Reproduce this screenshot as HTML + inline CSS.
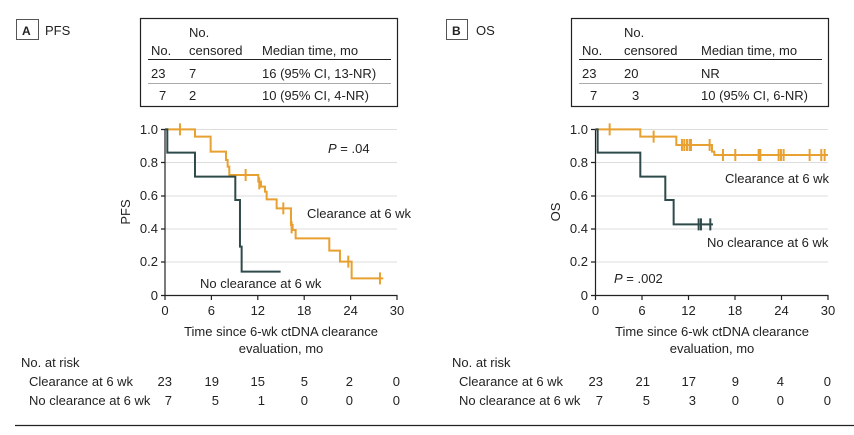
<!DOCTYPE html>
<html><head><meta charset="utf-8"><style>
html,body{margin:0;padding:0;background:#fff;}
svg{display:block;font-family:"Liberation Sans",sans-serif;font-size:13px;fill:#222;}
</style></head><body>
<svg width="854" height="435" viewBox="0 0 854 435" xmlns="http://www.w3.org/2000/svg">
<!-- Panel A header -->
<rect x="16.5" y="19.5" width="22" height="20" fill="none" stroke="#555" stroke-width="1"/>
<text x="22" y="35" font-weight="bold" font-size="12">A</text>
<text x="45" y="35">PFS</text>
<rect x="140.5" y="18.5" width="257" height="88" fill="none" stroke="#222" stroke-width="1.2"/>
<text x="189" y="37">No.</text>
<text x="151" y="55">No.</text><text x="189" y="55">censored</text><text x="262" y="55">Median time, mo</text>
<line x1="148" y1="59.5" x2="391" y2="59.5" stroke="#222" stroke-width="1"/>
<text x="151" y="78">23</text><text x="189" y="78">7</text><text x="262" y="78">16 (95% CI, 13-NR)</text>
<line x1="148" y1="83.5" x2="391" y2="83.5" stroke="#aaa" stroke-width="1"/>
<text x="159" y="100">7</text><text x="189" y="100">2</text><text x="262" y="100">10 (95% CI, 4-NR)</text>

<!-- Panel B header -->
<rect x="446.5" y="19.5" width="21" height="20" fill="none" stroke="#555" stroke-width="1"/>
<text x="452" y="35" font-weight="bold" font-size="12">B</text>
<text x="476" y="35">OS</text>
<rect x="571.5" y="18.5" width="257" height="88" fill="none" stroke="#222" stroke-width="1.2"/>
<text x="624" y="37">No.</text>
<text x="582" y="55">No.</text><text x="624" y="55">censored</text><text x="701" y="55">Median time, mo</text>
<line x1="579" y1="59.5" x2="822" y2="59.5" stroke="#222" stroke-width="1"/>
<text x="582" y="78">23</text><text x="624" y="78">20</text><text x="701" y="78">NR</text>
<line x1="579" y1="83.5" x2="822" y2="83.5" stroke="#aaa" stroke-width="1"/>
<text x="590" y="100">7</text><text x="632" y="100">3</text><text x="701" y="100">10 (95% CI, 6-NR)</text>

<!-- Axes A -->
<g stroke="#ddd" stroke-width="1">
<line x1="165" y1="129.5" x2="397" y2="129.5"/><line x1="165" y1="162.5" x2="397" y2="162.5"/>
<line x1="165" y1="196" x2="397" y2="196"/><line x1="165" y1="229" x2="397" y2="229"/>
<line x1="165" y1="262" x2="397" y2="262"/>
<line x1="595" y1="129.5" x2="828" y2="129.5"/><line x1="595" y1="162.5" x2="828" y2="162.5"/>
<line x1="595" y1="196" x2="828" y2="196"/><line x1="595" y1="229" x2="828" y2="229"/>
<line x1="595" y1="262" x2="828" y2="262"/>
</g>
<g stroke="#222" stroke-width="1.2" fill="none">
<path d="M165,129 V295.5 H397.5"/>
<path d="M161,129.5 H165 M161,162.5 H165 M161,196 H165 M161,229 H165 M161,262 H165 M161,295.5 H165"/>
<path d="M165,295 V300 M211.4,295 V300 M257.8,295 V300 M304.2,295 V300 M350.6,295 V300 M397,295 V300"/>
<path d="M595.5,129 V295.5 H828.5"/>
<path d="M591,129.5 H595 M591,162.5 H595 M591,196 H595 M591,229 H595 M591,262 H595 M591,295.5 H595"/>
<path d="M595.5,295 V300 M642,295 V300 M688.5,295 V300 M735,295 V300 M781.5,295 V300 M828,295 V300"/>
</g>
<g text-anchor="end">
<text x="158" y="134">1.0</text><text x="158" y="167">0.8</text><text x="158" y="200">0.6</text>
<text x="158" y="233">0.4</text><text x="158" y="266">0.2</text><text x="158" y="300">0</text>
<text x="588" y="134">1.0</text><text x="588" y="167">0.8</text><text x="588" y="200">0.6</text>
<text x="588" y="233">0.4</text><text x="588" y="266">0.2</text><text x="588" y="300">0</text>
</g>
<g text-anchor="middle">
<text x="165" y="315">0</text><text x="211.4" y="315">6</text><text x="257.8" y="315">12</text>
<text x="304.2" y="315">18</text><text x="350.6" y="315">24</text><text x="397" y="315">30</text>
<text x="595.5" y="315">0</text><text x="642" y="315">6</text><text x="688.5" y="315">12</text>
<text x="735" y="315">18</text><text x="781.5" y="315">24</text><text x="828" y="315">30</text>
<text x="281" y="336">Time since 6-wk ctDNA clearance</text>
<text x="281" y="353">evaluation, mo</text>
<text x="712" y="336">Time since 6-wk ctDNA clearance</text>
<text x="712" y="353">evaluation, mo</text>
<text transform="translate(130,212) rotate(-90)">PFS</text>
<text transform="translate(560,212) rotate(-90)">OS</text>
</g>

<!-- Curves A -->
<g transform="translate(0,110) scale(0.3333)" fill="none" stroke-width="6">
<path stroke="#E8A030" d="M495,58 H585 V80 H632 V125 H678 V150 H683 V170 H688 V195 H775 V215 H783 V230 H795 V245 H800 V268 H830 V295 H873 V345 H878 V360 H887 V385 H988 V422 H1020 V455 H1055 V505 H1150"/>
<path stroke="#E8A030" d="M540,40 V76 M737,177 V213 M778,202 V238 M850,277 V313 M875,334 V370 M1045,437 V473 M1140,487 V523"/>
<path stroke="#2F4A4A" d="M495,58 H502 V128 H585 V200 H706 V270 H720 V410 H725 V485 H842"/>
</g>
<!-- Curves B -->
<g transform="translate(427,110) scale(0.3333)" fill="none" stroke-width="6">
<path stroke="#E8A030" d="M505,58 H640 V80 H748 V105 H855 V125 H862 V135 H1203"/>
<path stroke="#E8A030" d="M548,40 V76 M680,62 V98 M765,87 V123 M772,87 V123 M780,87 V123 M788,87 V123 M792,87 V123 M848,87 V123 M888,117 V153 M925,117 V153 M995,117 V153 M1000,117 V153 M1055,117 V153 M1062,117 V153 M1070,117 V153 M1148,117 V153 M1183,117 V153 M1193,117 V153"/>
<path stroke="#2F4A4A" d="M505,58 H512 V128 H640 V200 H715 V270 H740 V343 H858"/>
<path stroke="#2F4A4A" d="M815,325 V361 M822,325 V361 M850,325 V361"/>
</g>

<!-- Annotations -->
<text x="328" y="153"><tspan font-style="italic">P</tspan> = .04</text>
<text x="307" y="218">Clearance at 6 wk</text>
<text x="200" y="288">No clearance at 6 wk</text>
<text x="725" y="183">Clearance at 6 wk</text>
<text x="707" y="247">No clearance at 6 wk</text>
<text x="614" y="283"><tspan font-style="italic">P</tspan> = .002</text>

<!-- At risk A -->
<text x="21" y="367">No. at risk</text>
<text x="29" y="386">Clearance at 6 wk</text>
<text x="29" y="405">No clearance at 6 wk</text>
<g text-anchor="end">
<text x="172" y="386">23</text><text x="219" y="386">19</text><text x="265" y="386">15</text>
<text x="308" y="386">5</text><text x="353" y="386">2</text><text x="400" y="386">0</text>
<text x="172" y="405">7</text><text x="219" y="405">5</text><text x="265" y="405">1</text>
<text x="308" y="405">0</text><text x="353" y="405">0</text><text x="400" y="405">0</text>
</g>
<!-- At risk B -->
<text x="452" y="367">No. at risk</text>
<text x="459" y="386">Clearance at 6 wk</text>
<text x="459" y="405">No clearance at 6 wk</text>
<g text-anchor="end">
<text x="603" y="386">23</text><text x="650" y="386">21</text><text x="696" y="386">17</text>
<text x="739" y="386">9</text><text x="784" y="386">4</text><text x="831" y="386">0</text>
<text x="603" y="405">7</text><text x="650" y="405">5</text><text x="696" y="405">3</text>
<text x="739" y="405">0</text><text x="784" y="405">0</text><text x="831" y="405">0</text>
</g>
<line x1="15" y1="425.5" x2="854" y2="425.5" stroke="#222" stroke-width="1.2"/>
</svg>
</body></html>
